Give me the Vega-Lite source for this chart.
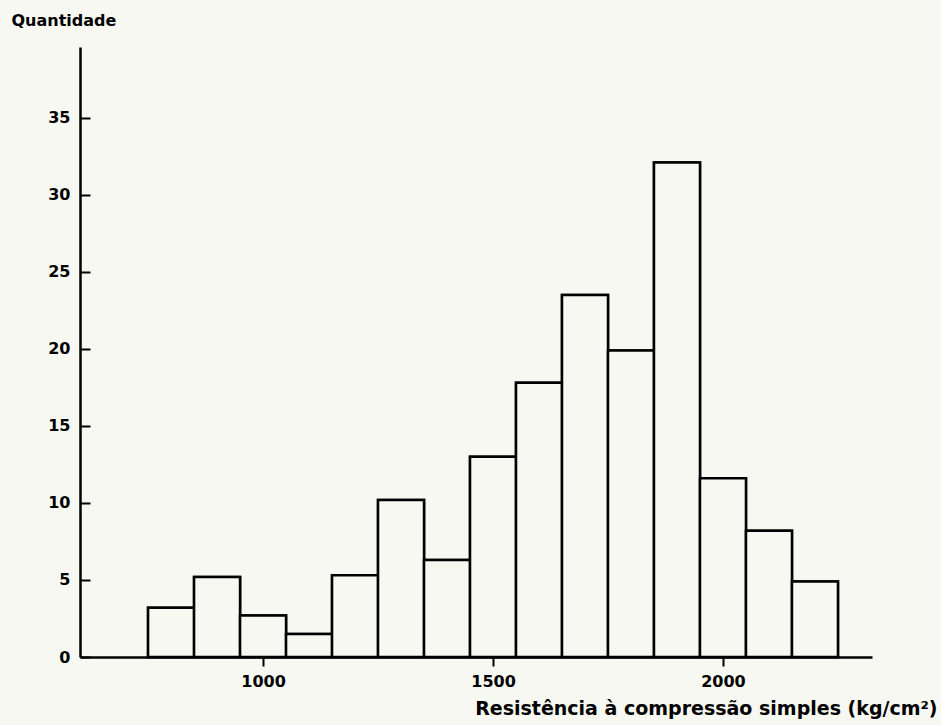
{
  "$schema": "https://vega.github.io/schema/vega-lite/v6.json",
  "width": 792,
  "height": 610,
  "autosize": {"type": "none"},
  "padding": {"left": 80, "top": 47, "right": 69, "bottom": 68},
  "background": "#f6f8f1",
  "config": {
    "view": {"stroke": null},
    "font": "DejaVu Sans"
  },
  "data": {
    "values": [
      {"lo": 750, "hi": 850, "quantidade": 3.2},
      {"lo": 850, "hi": 950, "quantidade": 5.2},
      {"lo": 950, "hi": 1050, "quantidade": 2.7},
      {"lo": 1050, "hi": 1150, "quantidade": 1.5},
      {"lo": 1150, "hi": 1250, "quantidade": 5.3},
      {"lo": 1250, "hi": 1350, "quantidade": 10.2},
      {"lo": 1350, "hi": 1450, "quantidade": 6.3},
      {"lo": 1450, "hi": 1550, "quantidade": 13.0},
      {"lo": 1550, "hi": 1650, "quantidade": 17.8},
      {"lo": 1650, "hi": 1750, "quantidade": 23.5},
      {"lo": 1750, "hi": 1850, "quantidade": 19.9},
      {"lo": 1850, "hi": 1950, "quantidade": 32.1},
      {"lo": 1950, "hi": 2050, "quantidade": 11.6},
      {"lo": 2050, "hi": 2150, "quantidade": 8.2},
      {"lo": 2150, "hi": 2250, "quantidade": 4.9}
    ]
  },
  "encoding": {
    "x": {
      "field": "lo",
      "type": "quantitative",
      "scale": {"domain": [602, 2324], "nice": false, "zero": false},
      "axis": {
        "values": [1000, 1500, 2000],
        "format": "d",
        "grid": false,
        "domainColor": "#000000",
        "domainWidth": 2.5,
        "tickColor": "#000000",
        "tickWidth": 2,
        "tickSize": 9,
        "labelPadding": 7,
        "labelFontSize": 16,
        "labelFontWeight": "bold",
        "labelColor": "#000000",
        "title": "Resistência à compressão simples (kg/cm²)",
        "titleFontSize": 19,
        "titleFontWeight": "bold",
        "titleColor": "#000000",
        "titleAlign": "right",
        "titleAnchor": null,
        "titleX": 857,
        "titleY": 51,
        "titleBaseline": "middle"
      }
    },
    "x2": {"field": "hi"},
    "y2": {"datum": 0}
  },
  "layer": [
    {
      "mark": {"type": "bar", "fill": "#f6f8f1", "stroke": "#000000", "strokeWidth": 2.5},
      "encoding": {
        "y": {
          "field": "quantidade",
          "type": "quantitative",
          "scale": {"domain": [0, 39.6], "nice": false},
          "axis": {
            "values": [0, 5, 10, 15, 20, 25, 30, 35],
            "grid": false,
            "domainColor": "#000000",
            "domainWidth": 2.5,
            "ticks": false,
            "labelPadding": 10,
            "labelFontSize": 16,
            "labelFontWeight": "bold",
            "labelColor": "#000000",
            "title": "Quantidade",
            "titleFontSize": 16,
            "titleFontWeight": "bold",
            "titleColor": "#000000",
            "titleAngle": 0,
            "titleAlign": "left",
            "titleAnchor": null,
            "titleX": -69,
            "titleY": -27,
            "titleBaseline": "middle"
          }
        }
      }
    },
    {
      "mark": {"type": "bar", "fill": "#f6f8f1", "stroke": "#000000", "strokeWidth": 2.5},
      "encoding": {
        "y": {
          "field": "quantidade",
          "type": "quantitative",
          "scale": {"domain": [0, 39.6], "nice": false},
          "axis": {
            "orient": "right",
            "offset": -792,
            "values": [0, 5, 10, 15, 20, 25, 30, 35],
            "grid": false,
            "domain": false,
            "labels": false,
            "title": null,
            "tickColor": "#000000",
            "tickWidth": 2,
            "tickSize": 10
          }
        }
      }
    }
  ],
  "resolve": {"axis": {"y": "independent"}}
}
